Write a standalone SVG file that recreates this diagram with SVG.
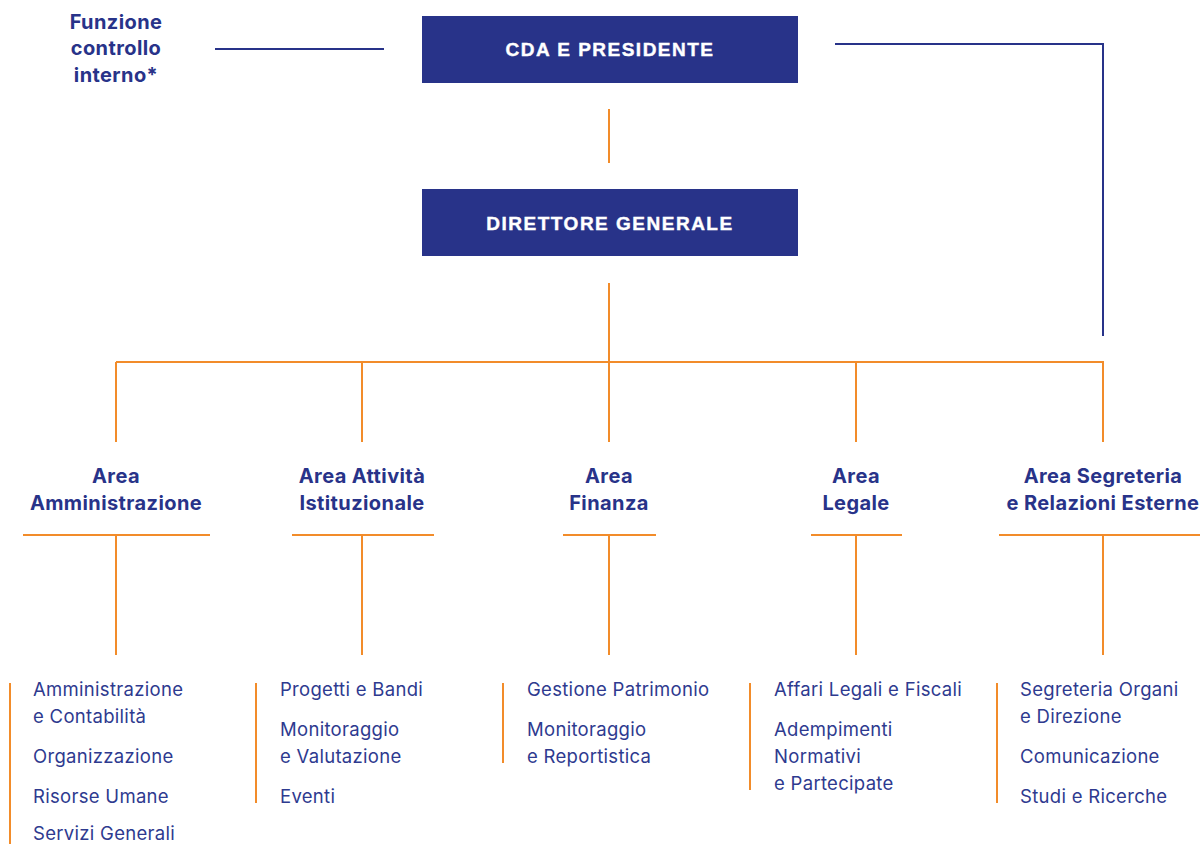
<svg xmlns="http://www.w3.org/2000/svg" width="1200" height="844" viewBox="0 0 1200 844">
<style>
.box{fill:#283389}
.bt{font-family:"Liberation Sans",Arial,sans-serif;font-weight:bold;font-size:19px;fill:#ffffff;stroke:#ffffff;stroke-width:0.4;text-anchor:middle;letter-spacing:1.5px}
.hd{font-family:Inter,"Liberation Sans",sans-serif;font-weight:bold;font-size:20px;fill:#283389;text-anchor:middle;letter-spacing:0.4px}
.it{font-family:Inter,"Liberation Sans",sans-serif;font-size:18.5px;fill:#2e3a8f;letter-spacing:0.3px}
.or{stroke:#f28c2a;stroke-width:2;fill:none}
.bl{stroke:#283389;stroke-width:2;fill:none}
</style>
<rect width="1200" height="844" fill="#ffffff"/>
<g id="connectors">
<line class="bl" x1="215" y1="49" x2="384" y2="49"/>
<polyline class="bl" points="835,44 1103,44 1103,336"/>
<line class="or" x1="609" y1="109" x2="609" y2="163"/>
<line class="or" x1="609" y1="283" x2="609" y2="362"/>
<line class="or" x1="116" y1="362" x2="1104" y2="362"/>
<line class="or" x1="116" y1="362" x2="116" y2="442"/>
<line class="or" x1="362" y1="362" x2="362" y2="442"/>
<line class="or" x1="609" y1="362" x2="609" y2="442"/>
<line class="or" x1="856" y1="362" x2="856" y2="442"/>
<line class="or" x1="1103" y1="362" x2="1103" y2="442"/>
<line class="or" x1="116" y1="535" x2="116" y2="655"/>
<line class="or" x1="362" y1="535" x2="362" y2="655"/>
<line class="or" x1="609" y1="535" x2="609" y2="655"/>
<line class="or" x1="856" y1="535" x2="856" y2="655"/>
<line class="or" x1="1103" y1="535" x2="1103" y2="655"/>
</g>
<g id="funzione">
<text class="hd" x="116" y="29">Funzione</text>
<text class="hd" x="116" y="55">controllo</text>
<text class="hd" x="116" y="82">interno*</text>
</g>
<g id="cda">
<rect class="box" x="422" y="16" width="376" height="67"/>
<text class="bt" x="610" y="56">CDA E PRESIDENTE</text>
</g>
<g id="dg">
<rect class="box" x="422" y="189" width="376" height="67"/>
<text class="bt" x="610" y="230">DIRETTORE GENERALE</text>
</g>
<g id="area-amministrazione">
<text class="hd" x="116" y="483">Area</text>
<text class="hd" x="116" y="510">Amministrazione</text>
<line class="or" x1="23" y1="535" x2="210" y2="535"/>
</g>
<g id="area-attivita">
<text class="hd" x="362" y="483">Area Attività</text>
<text class="hd" x="362" y="510">Istituzionale</text>
<line class="or" x1="292" y1="535" x2="434" y2="535"/>
</g>
<g id="area-finanza">
<text class="hd" x="609" y="483">Area</text>
<text class="hd" x="609" y="510">Finanza</text>
<line class="or" x1="563" y1="535" x2="656" y2="535"/>
</g>
<g id="area-legale">
<text class="hd" x="856" y="483">Area</text>
<text class="hd" x="856" y="510">Legale</text>
<line class="or" x1="811" y1="535" x2="902" y2="535"/>
</g>
<g id="area-segreteria">
<text class="hd" x="1103" y="483">Area Segreteria</text>
<text class="hd" x="1103" y="510">e Relazioni Esterne</text>
<line class="or" x1="999" y1="535" x2="1200" y2="535"/>
</g>
<g id="list-amministrazione">
<line class="or" x1="10" y1="683" x2="10" y2="844"/>
<text class="it" x="33" y="696">Amministrazione</text>
<text class="it" x="33" y="723">e Contabilità</text>
<text class="it" x="33" y="763">Organizzazione</text>
<text class="it" x="33" y="803">Risorse Umane</text>
<text class="it" x="33" y="840">Servizi Generali</text>
</g>
<g id="list-attivita">
<line class="or" x1="256" y1="683" x2="256" y2="803"/>
<text class="it" x="280" y="696">Progetti e Bandi</text>
<text class="it" x="280" y="736">Monitoraggio</text>
<text class="it" x="280" y="763">e Valutazione</text>
<text class="it" x="280" y="803">Eventi</text>
</g>
<g id="list-finanza">
<line class="or" x1="503" y1="683" x2="503" y2="763"/>
<text class="it" x="527" y="696">Gestione Patrimonio</text>
<text class="it" x="527" y="736">Monitoraggio</text>
<text class="it" x="527" y="763">e Reportistica</text>
</g>
<g id="list-legale">
<line class="or" x1="750" y1="683" x2="750" y2="790"/>
<text class="it" x="774" y="696">Affari Legali e Fiscali</text>
<text class="it" x="774" y="736">Adempimenti</text>
<text class="it" x="774" y="763">Normativi</text>
<text class="it" x="774" y="790">e Partecipate</text>
</g>
<g id="list-segreteria">
<line class="or" x1="997" y1="683" x2="997" y2="803"/>
<text class="it" x="1020" y="696">Segreteria Organi</text>
<text class="it" x="1020" y="723">e Direzione</text>
<text class="it" x="1020" y="763">Comunicazione</text>
<text class="it" x="1020" y="803">Studi e Ricerche</text>
</g>
</svg>
